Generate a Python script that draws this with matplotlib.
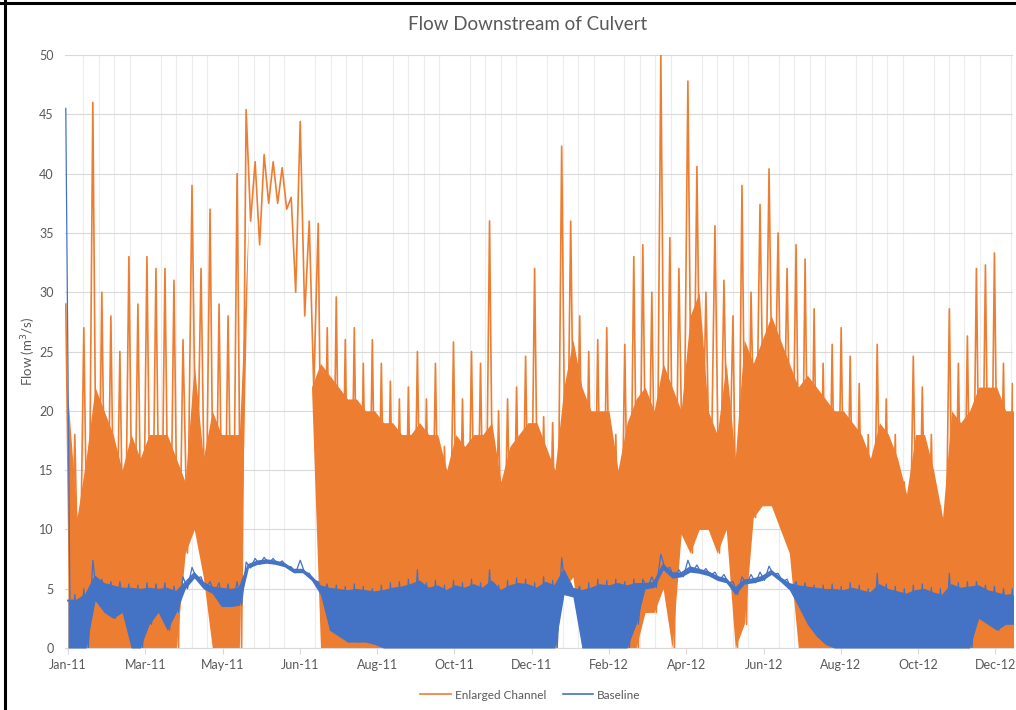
import numpy as np
import pandas as pd
import matplotlib
matplotlib.use('Agg')
import matplotlib.pyplot as plt
import matplotlib.dates as mdates
from matplotlib.lines import Line2D

# weekly readings from 1 Jan 2011, m3/s
enlarged_peak = [29, 18, 27, 46, 30, 28, 25, 33, 29, 33,
                 32, 32, 31, 26, 39, 32, 37, 29, 28, 40,
                 45.4, 41, 41.6, 41, 40.5, 38, 44.4, 36, 35.8, 27,
                 29.6, 26, 27, 24, 26, 24, 22.5, 21, 22, 25,
                 21, 24, 17, 25.8, 21, 25, 24, 36, 20, 21,
                 22, 24.6, 32, 19.5, 19, 42.3, 36, 28, 25, 26,
                 27, 18, 25.6, 33, 34, 30, 50, 34.6, 32, 47.8,
                 40.6, 30, 35.6, 31, 28, 39, 30, 37.4, 40.4, 35,
                 32, 34, 32.8, 28.6, 24, 25.6, 27, 24.6, 22.3, 18,
                 25.6, 21, 18, 14, 24.6, 22, 18, 12, 28.6, 24,
                 26.3, 32, 32.3, 33.3, 24, 22.3]
enlarged_fill = [21, 11, 16, 22, 20, 18, 15, 18, 16, 18,
                 18, 18, 16, 14, 24, 16, 20, 18, 18, 18,
                 36, 34, 37.5, 37.5, 37, 30, 28, 22, 24, 23,
                 22, 21, 21, 20, 20, 19, 19, 18, 18, 19,
                 18, 18, 15, 18, 17, 18, 18, 19, 14, 17,
                 18, 19, 19, 17, 15, 22, 26, 22, 20, 20,
                 20, 15, 19, 21, 22, 20, 24, 22, 20, 28,
                 30, 20, 18, 24, 16, 26, 24, 26, 28, 26,
                 24, 22, 23, 22, 21, 20, 20, 19, 18, 16,
                 19, 18, 16, 13, 18, 18, 15, 11, 20, 19,
                 20, 22, 22, 22, 20, 20]
enlarged_low = [0, 0, 0, 0, 0, 0, 0, 0, 0, 0,
                0, 0, 0, 8, 10, 6, 0, 0, 0, 0,
                36, 34, 37.5, 37.5, 37, 30, 28, 22, 0, 0,
                0, 0, 0, 0, 0, 0, 0, 0, 0, 0,
                0, 0, 0, 0, 0, 0, 0, 0, 0, 0,
                0, 0, 0, 0, 0, 5, 6, 0, 0, 0,
                0, 0, 0, 0, 3, 3, 5, 0, 9.6, 8,
                10, 10, 8, 10, 0, 2, 11, 12, 12, 10,
                8, 0, 0, 0, 0, 0, 0, 0, 0, 0,
                0, 0, 0, 0, 0, 0, 0, 0, 0, 0,
                0, 0, 0, 0, 0, 0]

baseline_peak = [45.5, 4.5, 5, 7.4, 5.8, 5.6, 5.6, 5.4, 5.3, 5.5,
                 5.4, 5.5, 5.2, 6.0, 6.8, 6.0, 5.6, 5.5, 5.4, 5.6,
                 7.25, 7.55, 7.65, 7.55, 7.35, 6.85, 7.4, 6.3, 5.6, 5.4,
                 5.3, 5.2, 5.4, 5.2, 5.0, 5.3, 5.5, 5.6, 5.8, 6.6,
                 5.5, 5.7, 5.3, 5.7, 5.5, 5.8, 5.5, 6.6, 5.3, 5.7,
                 5.9, 5.8, 5.5, 6.0, 5.7, 7.6, 5.5, 5.2, 5.5, 5.8,
                 5.7, 5.8, 5.6, 5.8, 5.8, 6.0, 7.9, 6.8, 6.6, 7.4,
                 7.0, 6.7, 6.4, 6.2, 5.6, 6.0, 6.2, 6.4, 6.9, 6.3,
                 5.8, 5.6, 5.5, 5.3, 5.3, 5.4, 5.2, 5.5, 5.3, 5.0,
                 6.3, 5.4, 5.2, 5.0, 5.3, 5.4, 5.1, 5.0, 6.3, 5.5,
                 5.6, 5.6, 5.3, 5.2, 5.0, 5.0]
baseline_top = [4, 4, 4.5, 6, 5.4, 5.2, 5.0, 5.0, 4.9, 5.0,
                4.9, 5.0, 4.7, 5.5, 6.3, 5.5, 5.1, 5.0, 4.9, 5.0,
                7.0, 7.3, 7.4, 7.3, 7.1, 6.6, 6.6, 6.0, 5.2, 5.0,
                4.9, 4.8, 4.9, 4.8, 4.7, 4.8, 5.0, 5.1, 5.3, 5.6,
                5.0, 5.2, 4.8, 5.2, 5.0, 5.3, 5.0, 5.6, 4.8, 5.2,
                5.4, 5.3, 5.0, 5.5, 5.2, 6.5, 5.0, 4.8, 5.0, 5.3,
                5.2, 5.4, 5.2, 5.4, 5.4, 5.5, 7.0, 6.3, 6.3, 6.8,
                6.6, 6.4, 6.0, 5.8, 5.0, 5.7, 5.8, 6.0, 6.5, 5.9,
                5.4, 5.2, 5.1, 5.0, 4.9, 4.9, 4.8, 5.0, 4.8, 4.6,
                5.3, 4.9, 4.7, 4.5, 4.8, 4.9, 4.6, 4.4, 5.3, 5.0,
                5.1, 5.2, 4.8, 4.6, 4.4, 4.5]
baseline_low = [0, 0, 0, 4, 3, 2.5, 3, 0, 0, 2,
                3, 1.5, 3, 5.0, 5.9, 5.0, 4.6, 3.5, 3.5, 3.6,
                6.75, 7.05, 7.15, 7.05, 6.85, 6.35, 6.35, 5.7, 4.5, 1.5,
                1, 0.5, 0.5, 0.5, 0.3, 0, 0, 0, 0, 0,
                0, 0, 0, 0, 0, 0, 0, 0, 0, 0,
                0, 0, 0, 0, 0, 4.5, 4.3, 0, 0, 0,
                0, 0, 0, 2, 5.0, 5.1, 6.6, 5.9, 6.0, 6.4,
                6.3, 6.1, 5.7, 5.5, 4.5, 5.4, 5.5, 5.7, 6.2, 5.6,
                4.9, 3.5, 2, 1, 0.3, 0, 0, 0, 0, 0,
                0, 0, 0, 0, 0, 0, 0, 0, 0, 0,
                0, 2.5, 2, 1.5, 2, 2]

tick_labels = ['Jan-11', 'Mar-11', 'May-11', 'Jun-11', 'Aug-11', 'Oct-11', 'Dec-11',
               'Feb-12', 'Apr-12', 'Jun-12', 'Aug-12', 'Oct-12', 'Dec-12']

orange = '#ED7D31'
blue = '#4472C4'
grey = '#595959'

plt.rcParams['font.family'] = ['Lato', 'DejaVu Sans']

weeks = mdates.date2num(pd.date_range('2011-01-01', periods=len(enlarged_peak), freq='7D'))


def zigzag(x, hi, lo):
    # up to the weekly high, down to the weekly low
    xs = np.column_stack([x - 1.75, x + 1.75]).ravel()
    ys = np.column_stack([hi, lo]).ravel()
    return xs, ys


fig = plt.figure(figsize=(10.16, 7.10), dpi=100)
ax = fig.add_axes([0.0638, 0.0873, 0.9333, 0.8352])

# Enlarged Channel
ax.fill_between(weeks, enlarged_low, enlarged_fill, color=orange, lw=0, zorder=2)
zx, zy = zigzag(weeks, enlarged_peak, enlarged_low)
ax.plot(zx, zy, color=orange, lw=1.2, zorder=3)

# Baseline
ax.fill_between(weeks, baseline_low, baseline_top, color=blue, lw=0, zorder=4)
bx, by = zigzag(weeks, baseline_peak, baseline_low)
ax.plot(bx, by, color=blue, lw=0.9, zorder=5)
ax.plot(weeks, baseline_top, color=blue, lw=1.4, zorder=5)

# axes
x0 = mdates.date2num(pd.Timestamp('2011-01-01'))
ax.set_xlim(x0 - 2.5, x0 + 733.7)
ax.set_ylim(0, 50)
ax.set_yticks(range(0, 51, 5))
ticks = mdates.date2num(pd.date_range('2011-01-01', periods=len(tick_labels), freq='60D'))
ax.set_xticks(ticks)
ax.set_xticklabels(tick_labels)
ax.set_xticks(mdates.date2num(pd.date_range('2011-01-01', '2013-01-05', freq='12D')), minor=True)

ax.grid(axis='y', color='#d9d9d9', lw=0.8, zorder=0)
ax.grid(axis='x', which='minor', color='#ececec', lw=0.8, zorder=0)
ax.set_axisbelow(True)
for s in ['top', 'right', 'left']:
    ax.spines[s].set_visible(False)
ax.spines['bottom'].set_color('#d9d9d9')
ax.tick_params(axis='x', which='major', colors='#d9d9d9', length=4, labelcolor=grey, labelsize=9, pad=4)
ax.tick_params(axis='x', which='minor', length=0)
ax.tick_params(axis='y', length=0, labelcolor=grey, labelsize=9, pad=8)

ax.set_ylabel('Flow (m$^3$/s)', color=grey, fontsize=9.5, labelpad=1)
fig.text(0.519, 0.966, 'Flow Downstream of Culvert', ha='center', va='center',
         color=grey, fontsize=13.5)

handles = [Line2D([], [], color=orange, lw=1.2), Line2D([], [], color=blue, lw=1.2)]
fig.legend(handles, ['Enlarged Channel', 'Baseline'], loc='center', ncol=2,
           bbox_to_anchor=(0.522, 0.021), frameon=False, fontsize=8.5,
           labelcolor=grey, handlelength=2.6, handletextpad=0.3, columnspacing=1.4)

# screenshot frame on left and top
fig.add_artist(Line2D([0.0045, 0.0045], [0, 1], color='black', lw=2.2, transform=fig.transFigure))
fig.add_artist(Line2D([0, 1], [0.9955, 0.9955], color='black', lw=2.2, transform=fig.transFigure))

fig.savefig('out.png', dpi=100)
